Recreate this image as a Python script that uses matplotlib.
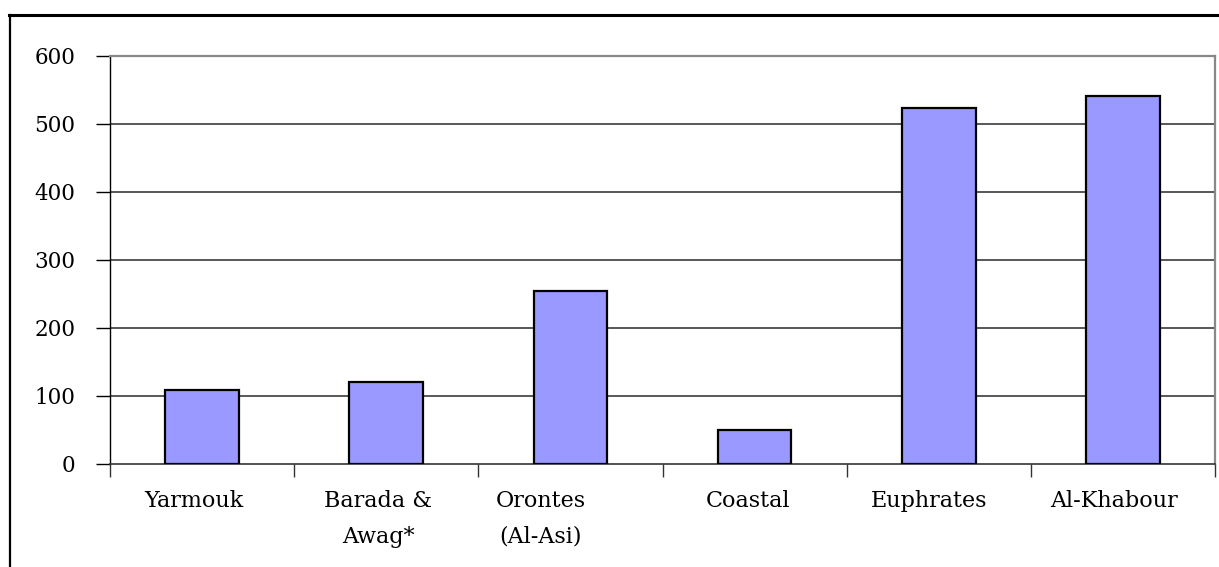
import matplotlib
matplotlib.use("Agg")
import matplotlib.pyplot as plt
from matplotlib.lines import Line2D
from matplotlib.transforms import ScaledTranslation
import numpy as np

# Basins and their values
basins = ["Yarmouk", "Barada &\nAwag*", "Orontes\n(Al-Asi)", "Coastal", "Euphrates", "Al-Khabour"]
values = [109, 120, 255, 50, 523, 541]
y_ticks = [0, 100, 200, 300, 400, 500, 600]

# horizontal nudges (pixels) for the category labels
label_shift_px = [-8, -8, -30, -7, -10, -9]

plt.rcParams["font.family"] = ["DejaVu Serif", "Liberation Serif"]

fig = plt.figure(figsize=(12.19, 5.67), dpi=100)
ax = fig.add_axes([110 / 1219, 1 - 464 / 567, (1215 - 110) / 1219, (464 - 56) / 567])

x = np.arange(len(basins))
ax.bar(x, values, width=0.4, color="#9999FF", edgecolor="black", linewidth=1.6, zorder=3)

ax.set_xlim(-0.5, len(basins) - 0.5)
ax.set_ylim(0, 600)

# horizontal gridlines
for yv in y_ticks[1:-1]:
    ax.axhline(yv, color="#2a2a2a", linewidth=1.1, zorder=1)

ax.set_yticks(y_ticks)
ax.set_yticklabels([str(v) for v in y_ticks], fontsize=15.5)
ax.tick_params(axis="y", direction="out", length=10, width=1, pad=15, color="black")

# category boundaries carry ticks; labels sit at the centers
ax.set_xticks(np.arange(len(basins) + 1) - 0.5)
ax.set_xticklabels([])
ax.tick_params(axis="x", which="major", direction="out", length=9, width=1, color="#333333")
ax.set_xticks(x, minor=True)
ax.set_xticklabels(basins, minor=True, fontsize=16, linespacing=1.8, va="top")
ax.tick_params(axis="x", which="minor", length=0, pad=19)
for lbl, dx in zip(ax.get_xticklabels(minor=True), label_shift_px):
    lbl.set_transform(lbl.get_transform() + ScaledTranslation(dx / 100, 0, fig.dpi_scale_trans))

for side in ("top", "right"):
    ax.spines[side].set_color("#888888")
    ax.spines[side].set_linewidth(1.6)
ax.spines["left"].set_color("black")
ax.spines["left"].set_linewidth(1.0)
ax.spines["bottom"].set_color("#333333")
ax.spines["bottom"].set_linewidth(1.2)

# outer frame: top rule and left rule
fig.add_artist(Line2D([9 / 1219, 1.0], [1 - 14.5 / 567, 1 - 14.5 / 567],
                      transform=fig.transFigure, color="black", linewidth=2.2))
fig.add_artist(Line2D([9.5 / 1219, 9.5 / 1219], [0, 1 - 14.5 / 567],
                      transform=fig.transFigure, color="black", linewidth=1.6))

fig.savefig("out.png", dpi=100)
